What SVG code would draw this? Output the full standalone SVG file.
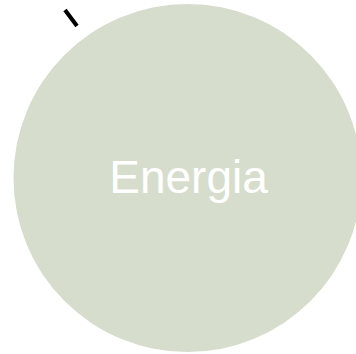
<svg xmlns="http://www.w3.org/2000/svg" width="356" height="354" viewBox="0 0 356 354">
<style>
.node{fill:#d6ddcd}
.label{font-family:"Liberation Sans",Arial,sans-serif;font-size:46px;fill:#ffffff;text-anchor:middle}
.conn{stroke:#000;stroke-width:4;fill:none}
</style>
<rect width="356" height="354" fill="#ffffff"/>
<g id="connectors">
<line class="conn" x1="65" y1="10" x2="77" y2="26"/>
</g>
<g id="node-energia">
<circle class="node" cx="187.5" cy="178" r="174"/>
<text class="label" x="188.5" y="193">Energia</text>
</g>
</svg>
